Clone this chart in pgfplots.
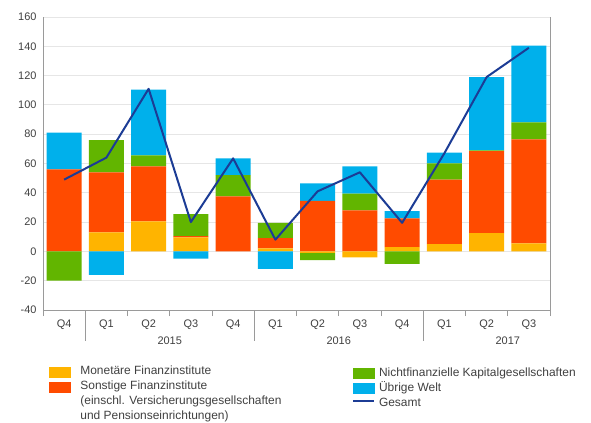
\documentclass[border=0pt]{standalone}
\usepackage{fontspec}
\setmainfont{Liberation Sans}
\usepackage{pgfplots}
\pgfplotsset{compat=1.18}
\usepackage{pgfplotstable}
\definecolor{cMFI}{HTML}{FFB400}
\definecolor{cOFI}{HTML}{FF4B00}
\definecolor{cNFC}{HTML}{62B500}
\definecolor{cROW}{HTML}{00B0EB}
\definecolor{cTot}{HTML}{1C3C95}
\definecolor{cAxis}{HTML}{9A9A9A}
\definecolor{cGrid}{HTML}{E6E6E6}
\definecolor{cText}{HTML}{404040}

% positive parts of each component
\pgfplotstableread{
x mfi ofi nfc row
0 0 56 0 25
1 13 41 22 0
2 20.5 37.5 7.5 45
3 9.5 1 15 0
4 0 37.5 14.5 11.5
5 2 7 10.5 0
6 0 34.5 0 12
7 0 28 11.5 18.5
8 3 19.5 0 5
9 5 44 11 7.5
10 12.5 56 0.5 50
11 5.5 71 11.5 52.5
}\postab
% negative parts of each component
\pgfplotstableread{
x mfi ofi nfc row
0 0 0 -20 0
1 0 0 0 -16
2 0 0 0 0
3 0 0 0 -5
4 0 0 0 0
5 0 0 0 -12
6 -1 0 -5 0
7 -4 0 0 0
8 0 0 -8.5 0
9 0 0 0 0
10 0 0 0 0
11 0 0 0 0
}\negtab
% Gesamt
\pgfplotstableread{
x tot
0 49
1 64
2 111
3 20
4 63.5
5 8
6 41
7 54
8 19.5
9 67
10 119
11 139
}\tottab

\pgfplotsset{
  base/.style={
    at={(43bp,113bp)}, anchor=south west,
    scale only axis, width=507bp, height=293bp,
    xmin=-0.5, xmax=11.5, ymin=-40, ymax=160,
  },
  legendbase/.style={
    legend cell align=left,
    legend style={draw=none, fill=none, inner sep=0pt, outer sep=0pt,
      row sep=4bp,
      nodes={inner sep=0pt, text height=8.5bp, text depth=2.5bp,
        font=\fontsize{12}{14}\selectfont, text=cText}},
  },
}

\begin{document}
\begin{tikzpicture}
\path[use as bounding box] (0,0) rectangle (591bp,423bp);
\begin{axis}[base,
  axis x line=bottom, axis y line=left,
  axis line style={-, draw=cAxis, line width=0.8bp},
  ytick={-40,-20,...,160},
  /pgf/number format/assume math mode=true,
  ymajorgrids, grid style={draw=cGrid, line width=0.8bp},
  ytick style={draw=none},
  xtick={-0.5,0.5,...,11.5},
  x tick label as interval,
  xticklabels={Q4,Q1,Q2,Q3,Q4,Q1,Q2,Q3,Q4,Q1,Q2,Q3},
  tick align=outside, major tick length=6bp,
  xtick style={draw=cAxis, line width=0.8bp},
  tick label style={font=\fontsize{11}{13}\selectfont, text=cText},
  yticklabel style={xshift=3bp},
  ybar stacked, bar width=0.83,
  clip=false,
  legendbase,
  legend style={at={(0.0118,-0.1928)}, anchor=north west, column sep=10bp},
]
\addlegendimage{legend image code/.code={\fill[cMFI] (0bp,-5bp) rectangle (21bp,5bp);}}
\addlegendentry{Monetäre Finanzinstitute}
\addlegendimage{legend image code/.code={\fill[cOFI] (0bp,-5bp) rectangle (21bp,5bp);}}
\addlegendentry{Sonstige Finanzinstitute}
\addlegendimage{empty legend}
\addlegendentry{(einschl. Versicherungsgesellschaften}
\addlegendimage{empty legend}
\addlegendentry{und Pensionseinrichtungen)}

\addplot[fill=cMFI, draw=none] table[x=x,y=mfi]{\postab};
\addplot[fill=cOFI, draw=none] table[x=x,y=ofi]{\postab};
\addplot[fill=cNFC, draw=none] table[x=x,y=nfc]{\postab};
\addplot[fill=cROW, draw=none] table[x=x,y=row]{\postab};

\draw[cAxis, line width=0.8bp] (axis cs:11.5,-40) -- (axis cs:11.5,160);
\draw[cAxis, line width=0.8bp] (axis cs:0.5,-40) -- ([yshift=-31bp]axis cs:0.5,-40);
\draw[cAxis, line width=0.8bp] (axis cs:4.5,-40) -- ([yshift=-31bp]axis cs:4.5,-40);
\draw[cAxis, line width=0.8bp] (axis cs:8.5,-40) -- ([yshift=-31bp]axis cs:8.5,-40);
\node[font=\fontsize{11}{13}\selectfont, text=cText, yshift=-30.5bp] at (axis cs:2.5,-40) {2015};
\node[font=\fontsize{11}{13}\selectfont, text=cText, yshift=-30.5bp] at (axis cs:6.5,-40) {2016};
\node[font=\fontsize{11}{13}\selectfont, text=cText, yshift=-30.5bp] at (axis cs:10.5,-40) {2017};
\end{axis}

\begin{axis}[base, hide axis, ybar stacked, bar width=0.83, clip=false]
\addplot[fill=cMFI, draw=none] table[x=x,y=mfi]{\negtab};
\addplot[fill=cOFI, draw=none] table[x=x,y=ofi]{\negtab};
\addplot[fill=cNFC, draw=none] table[x=x,y=nfc]{\negtab};
\addplot[fill=cROW, draw=none] table[x=x,y=row]{\negtab};
\end{axis}

\begin{axis}[base, hide axis, clip=false,
  legendbase,
  legend style={at={(0.6095,-0.198)}, anchor=north west, column sep=4bp},
]
\addlegendimage{legend image code/.code={\fill[cNFC] (0bp,-5bp) rectangle (21bp,5bp);}}
\addlegendentry{Nichtfinanzielle Kapitalgesellschaften}
\addlegendimage{legend image code/.code={\fill[cROW] (0bp,-5bp) rectangle (21bp,5bp);}}
\addlegendentry{Übrige Welt}
\addplot[cTot, line width=2bp, mark=none, line join=round,
  legend image code/.code={\draw[cTot, line width=2bp] (0bp,3bp) -- (21bp,3bp);}]
  table[x=x,y=tot]{\tottab};
\addlegendentry{Gesamt}
\end{axis}
\end{tikzpicture}
\end{document}
